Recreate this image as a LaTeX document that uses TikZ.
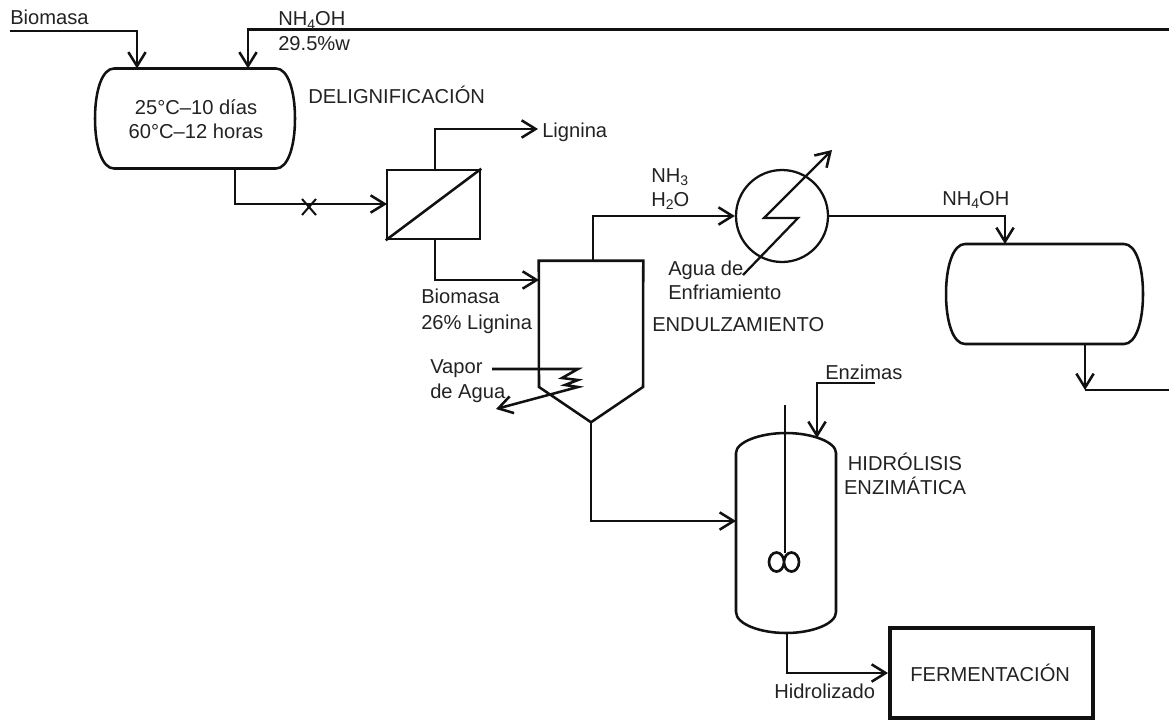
\documentclass[tikz,border=0pt]{standalone}
\usepackage{fontspec}
\setmainfont{Liberation Sans}
\usetikzlibrary{arrows.meta}
\newcommand\sbs[1]{\raisebox{-0.35ex}{\fontsize{10.5}{10.5}\selectfont #1}}
\definecolor{ink}{HTML}{111111}
\definecolor{txt}{HTML}{222222}
\tikzset{
  flow/.style={draw=ink,line width=1.9pt,line join=miter,-{Straight Barb[length=10.5pt,width=13pt,line width=1.9pt]}},
  pipe/.style={draw=ink,line width=1.9pt},
  thin pipe/.style={draw=ink,line width=1.5pt},
  lbl/.style={text=txt,anchor=base west,inner sep=0pt,font=\fontsize{15.1}{18}\selectfont},
  lblc/.style={lbl,anchor=base},
  shell/.style={inner sep=0pt,text=txt,font=\fontsize{15.1}{18}\selectfont,align=center},
  boxunit/.style={draw=ink,line width=1.9pt,inner sep=0pt},
}
\newcommand\hvessel[3]{% node, half width, half height
  \draw[pipe,shift={(#1.center)}] ({-(#2-19)},-#3) -- ({#2-19},-#3)
    .. controls ({#2-7},-#3) and (#2,{-#3*0.55}) .. (#2,0)
    .. controls (#2,{#3*0.55}) and ({#2-7},#3) .. ({#2-19},#3)
    -- ({-(#2-19)},#3)
    .. controls ({-(#2-7)},#3) and (-#2,{#3*0.55}) .. (-#2,0)
    .. controls (-#2,{-#3*0.55}) and ({-(#2-7)},-#3) .. ({-(#2-19)},-#3) -- cycle;}
\begin{document}
\begin{tikzpicture}[x=0.75pt,y=-0.75pt]
\useasboundingbox (0,0) rectangle (1169,721);
% equipment
\node[inner sep=0pt,minimum width=200*0.75pt,minimum height=100*0.75pt] (del) at (195,118.5) {};
\hvessel{del}{100}{50}
\node[inner sep=0pt,minimum width=197*0.75pt,minimum height=100*0.75pt] (stor) at (1044.5,294) {};
\hvessel{stor}{98.5}{50}
\node[boxunit,minimum width=93*0.75pt,minimum height=69*0.75pt] (filter) at (433.5,204.5) {};
\draw[pipe] (filter.south west) -- (filter.north east);
\node[inner sep=0pt,minimum width=104*0.75pt,minimum height=161*0.75pt] (tank) at (591,341.5) {};
\draw[pipe,line join=miter] (tank.north west) -- (tank.north east) -- (643,387) -- (tank.south) -- (539,387) -- cycle;
\node[boxunit,circle,line width=1.7pt,minimum size=92*0.75pt] (hx) at (782,216) {};
\node[inner sep=0pt,minimum width=100*0.75pt,minimum height=200*0.75pt] (reactor) at (786,533) {};
\draw[pipe] (736,453) .. controls (736,442) and (760,433) .. (786,433)
  .. controls (812,433) and (836,442) .. (836,453) -- (836,612)
  .. controls (836,624) and (812,633) .. (786,633)
  .. controls (760,633) and (736,624) .. (736,612) -- cycle;
\node[draw=ink,line width=3pt,inner sep=0pt,text=txt,font=\fontsize{15.1}{18}\selectfont,minimum width=203*0.75pt,minimum height=90*0.75pt] (ferm) at (991.5,673) {\kern-2pt FERMENTACIÓN};
% ports
\coordinate (bioS) at (10,31);
\coordinate (bioE) at (137,68.5);
\coordinate (nhS) at (1169,29.5);
\coordinate (nhE) at (248,68.5);
\coordinate (delOut) at (235,168.5);
\coordinate (filtIn) at (387,204);
\coordinate (filtTop) at (435,170);
\coordinate (filtBot) at (435,239);
\coordinate (ligE) at (538,129);
\coordinate (tankIn) at (539,280);
\coordinate (tankTop) at (593,261);
\coordinate (vapS) at (492,369);
\coordinate (vapE) at (496,409);
\coordinate (wIn) at (743,275);
\coordinate (wOut) at (832,150);
\coordinate (storIn) at (1005,244);
\coordinate (storOut) at (1085,344);
\coordinate (corner) at (1085,390);
\coordinate (rEdge) at (1169,390);
\coordinate (reIn) at (736,521);
\coordinate (enzS) at (875,383);
\coordinate (enzE) at (817,438);
\coordinate (shaftT) at (785,405);
\coordinate (shaftB) at (785,553);
\coordinate (reOut) at (787,633);
% streams
\draw[flow] (bioS) -| (bioE);
\draw[flow] (nhS) -| (nhE);
\draw[flow] (delOut) |- (filtIn);
\draw[flow] (filtTop) |- (ligE);
\draw[flow] (filtBot) |- (tankIn);
\draw[flow] (tankTop) |- (hx.west);
\draw[flow] (hx.east) -| (storIn);
\draw[flow] (storOut) -- (corner);
\draw[pipe] (corner) -- (rEdge);
\draw[flow] (tank.south) |- (reIn);
\draw[flow] (enzS) -| (enzE);
\draw[flow] (reOut) |- (ferm.west);
% cross on line
\draw[thin pipe] (302,199) -- (316,215) (316,199) -- (302,215);
% heat exchanger internal path
\draw[flow,line width=1.7pt,line join=miter] (wIn) -- (798,218) -- (764,218) -- (wOut);
% coil
\draw[flow,line join=miter] (vapS) -- (578,369) -- (562,378) -- (578,380) -- (565,385) -- (578,387) -- (vapE);
% agitator
\draw[pipe,line width=1.7pt] (shaftT) -- (shaftB);
\draw[pipe,line width=2pt] (776.5,562) ellipse (7.5 and 9.5) (791.5,562) ellipse (7.5 and 9.5);
% labels
\node[lblc] (l0a) at (196,114) {25°C–10 días};
\node[lblc] (l0b) at (196,138) {60°C–12 horas};
\node[lbl] (l1) at (10,24) {Biomasa};
\node[lbl] (l2) at (278,26) {NH\sbs{4}OH};
\node[lbl] (l3) at (278,50) {29.5\%w};
\node[lbl] (l4) at (308,103) {DELIGNIFICACIÓN};
\node[lbl] (l5) at (542,137) {Lignina};
\node[lbl] (l6) at (651,182) {NH\sbs{3}};
\node[lbl] (l7) at (651,206) {H\sbs{2}O};
\node[lbl] (l8) at (668,275) {Agua de};
\node[lbl] (l9) at (668,299) {Enfriamiento};
\node[lbl] (l10) at (652,331) {ENDULZAMIENTO};
\node[lbl] (l11) at (421,303) {Biomasa};
\node[lbl] (l12) at (421,329) {26\% Lignina};
\node[lbl] (l13) at (430,373) {Vapor};
\node[lbl] (l14) at (430,398) {de Agua};
\node[lbl] (l15) at (942,205) {NH\sbs{4}OH};
\node[lbl] (l16) at (825,379) {Enzimas};
\node[lblc] (l17) at (905,470) {HIDRÓLISIS};
\node[lblc] (l18) at (905,494) {ENZIMÁTICA};
\node[lbl] (l19) at (774,698) {Hidrolizado};
\end{tikzpicture}
\end{document}
